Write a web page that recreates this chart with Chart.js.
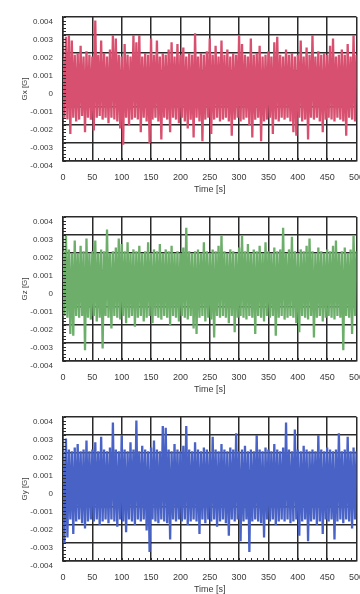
<!DOCTYPE html>
<html>
<head>
<meta charset="utf-8">
<script src="https://cdn.jsdelivr.net/npm/chart.js@4.4.1/dist/chart.umd.min.js"></script>
<style>
  html, body { margin: 0; padding: 0; background: #ffffff; width: 360px; height: 594px; overflow: hidden; }
  .panel { position: absolute; left: 0; width: 375px; height: 200px; }
  canvas { display: block; }
</style>
</head>
<body>
<div class="panel" style="top:0px"><canvas id="cGx" width="375" height="200"></canvas></div>
<div class="panel" style="top:200px"><canvas id="cGz" width="375" height="200"></canvas></div>
<div class="panel" style="top:400px"><canvas id="cGy" width="375" height="200"></canvas></div>
<script>
// ---- data (G) ----
const timeStep = 2.5; // seconds between samples
const xAxisTitle = 'Time [s]';
const axisTitles = ['Gx [G]', 'Gz [G]', 'Gy [G]'];
const seriesColors = ['#d8506f', '#6cae6a', '#4862c6'];

const gxValues = [
  0.0018,-0.0016,0.0029,-0.0017,0.0030,-0.0025,0.0027,-0.0016,0.0019,-0.0018,
  0.0020,-0.0017,0.0024,-0.0015,0.0018,-0.0024,0.0021,-0.0016,0.0019,-0.0017,
  0.0018,-0.0023,0.0038,-0.0016,0.0019,-0.0015,0.0027,-0.0017,0.0020,-0.0016,
  0.0018,-0.0019,0.0022,-0.0016,0.0030,-0.0017,0.0028,-0.0018,0.0019,-0.0022,
  0.0018,-0.0031,0.0025,-0.0016,0.0019,-0.0020,0.0018,-0.0017,0.0030,-0.0016,
  0.0026,-0.0017,0.0030,-0.0024,0.0018,-0.0016,0.0020,-0.0018,0.0019,-0.0030,
  0.0028,-0.0017,0.0019,-0.0016,0.0027,-0.0018,0.0018,-0.0028,0.0020,-0.0016,
  0.0019,-0.0017,0.0022,-0.0024,0.0026,-0.0016,0.0018,-0.0017,0.0025,-0.0019,
  0.0019,-0.0016,0.0023,-0.0018,0.0018,-0.0022,0.0020,-0.0017,0.0019,-0.0027,
  0.0031,-0.0016,0.0018,-0.0018,0.0020,-0.0029,0.0019,-0.0017,0.0021,-0.0016,
  0.0028,-0.0025,0.0019,-0.0017,0.0024,-0.0016,0.0018,-0.0018,0.0027,-0.0017,
  0.0019,-0.0016,0.0022,-0.0018,0.0018,-0.0026,0.0020,-0.0017,0.0019,-0.0016,
  0.0030,-0.0018,0.0025,-0.0017,0.0019,-0.0016,0.0018,-0.0020,0.0028,-0.0027,
  0.0019,-0.0017,0.0020,-0.0016,0.0024,-0.0029,0.0018,-0.0018,0.0019,-0.0017,
  0.0021,-0.0016,0.0018,-0.0025,0.0026,-0.0017,0.0029,-0.0018,0.0019,-0.0016,
  0.0018,-0.0017,0.0022,-0.0016,0.0019,-0.0018,0.0020,-0.0024,0.0018,-0.0026,
  0.0019,-0.0016,0.0027,-0.0018,0.0018,-0.0017,0.0023,-0.0028,0.0019,-0.0016,
  0.0030,-0.0017,0.0018,-0.0016,0.0021,-0.0018,0.0019,-0.0024,0.0020,-0.0017,
  0.0019,-0.0016,0.0024,-0.0017,0.0028,-0.0018,0.0018,-0.0016,0.0019,-0.0017,
  0.0022,-0.0018,0.0019,-0.0026,0.0025,-0.0016,0.0018,-0.0017,0.0030,-0.0018,
  0.0019
];

const gzValues = [
  0.0021,-0.0015,0.0030,-0.0016,0.0022,-0.0025,0.0020,-0.0026,0.0027,-0.0015,
  0.0020,-0.0016,0.0024,-0.0015,0.0021,-0.0034,0.0028,-0.0016,0.0020,-0.0017,
  0.0021,-0.0015,0.0027,-0.0018,0.0020,-0.0016,0.0022,-0.0033,0.0021,-0.0015,
  0.0033,-0.0016,0.0020,-0.0022,0.0021,-0.0015,0.0023,-0.0016,0.0028,-0.0017,
  0.0025,-0.0015,0.0021,-0.0019,0.0026,-0.0016,0.0020,-0.0015,0.0022,-0.0021,
  0.0021,-0.0016,0.0024,-0.0015,0.0020,-0.0018,0.0021,-0.0016,0.0026,-0.0015,
  0.0020,-0.0019,0.0022,-0.0015,0.0021,-0.0016,0.0025,-0.0017,0.0020,-0.0015,
  0.0022,-0.0016,0.0021,-0.0020,0.0024,-0.0015,0.0020,-0.0016,0.0021,-0.0018,
  0.0020,-0.0015,0.0023,-0.0016,0.0034,-0.0017,0.0021,-0.0015,0.0020,-0.0022,
  0.0021,-0.0025,0.0022,-0.0016,0.0020,-0.0015,0.0026,-0.0018,0.0021,-0.0016,
  0.0020,-0.0017,0.0022,-0.0027,0.0021,-0.0015,0.0024,-0.0016,0.0030,-0.0015,
  0.0021,-0.0016,0.0020,-0.0019,0.0022,-0.0015,0.0021,-0.0024,0.0020,-0.0016,
  0.0023,-0.0015,0.0030,-0.0016,0.0021,-0.0017,0.0025,-0.0015,0.0020,-0.0016,
  0.0022,-0.0025,0.0021,-0.0015,0.0024,-0.0016,0.0020,-0.0018,0.0026,-0.0015,
  0.0021,-0.0016,0.0020,-0.0015,0.0023,-0.0026,0.0021,-0.0016,0.0022,-0.0015,
  0.0034,-0.0017,0.0020,-0.0016,0.0022,-0.0015,0.0029,-0.0016,0.0021,-0.0019,
  0.0020,-0.0024,0.0022,-0.0015,0.0021,-0.0016,0.0024,-0.0017,0.0028,-0.0015,
  0.0021,-0.0027,0.0020,-0.0016,0.0023,-0.0015,0.0021,-0.0018,0.0020,-0.0016,
  0.0022,-0.0015,0.0021,-0.0016,0.0024,-0.0017,0.0027,-0.0015,0.0020,-0.0016,
  0.0021,-0.0034,0.0023,-0.0015,0.0020,-0.0016,0.0022,-0.0025,0.0030,-0.0015,
  0.0021
];

const gyValues = [
  0.0021,-0.0030,0.0028,-0.0027,0.0022,-0.0017,0.0021,-0.0025,0.0023,-0.0018,
  0.0025,-0.0017,0.0021,-0.0019,0.0022,-0.0022,0.0027,-0.0018,0.0021,-0.0017,
  0.0022,-0.0018,0.0026,-0.0017,0.0021,-0.0020,0.0029,-0.0018,0.0022,-0.0017,
  0.0021,-0.0019,0.0023,-0.0017,0.0037,-0.0018,0.0022,-0.0021,0.0021,-0.0017,
  0.0030,-0.0018,0.0022,-0.0024,0.0021,-0.0017,0.0026,-0.0018,0.0022,-0.0020,
  0.0038,-0.0017,0.0021,-0.0018,0.0024,-0.0017,0.0022,-0.0023,0.0021,-0.0035,
  0.0023,-0.0017,0.0027,-0.0018,0.0022,-0.0019,0.0021,-0.0017,0.0035,-0.0018,
  0.0034,-0.0019,0.0022,-0.0028,0.0021,-0.0017,0.0025,-0.0018,0.0022,-0.0017,
  0.0021,-0.0018,0.0024,-0.0017,0.0035,-0.0020,0.0022,-0.0018,0.0021,-0.0017,
  0.0026,-0.0018,0.0022,-0.0025,0.0021,-0.0017,0.0023,-0.0019,0.0022,-0.0017,
  0.0021,-0.0018,0.0029,-0.0017,0.0022,-0.0021,0.0021,-0.0018,0.0025,-0.0017,
  0.0022,-0.0019,0.0021,-0.0026,0.0023,-0.0017,0.0022,-0.0018,0.0031,-0.0017,
  0.0021,-0.0029,0.0022,-0.0018,0.0024,-0.0017,0.0021,-0.0035,0.0022,-0.0018,
  0.0021,-0.0017,0.0030,-0.0018,0.0022,-0.0019,0.0021,-0.0027,0.0023,-0.0017,
  0.0022,-0.0018,0.0021,-0.0017,0.0025,-0.0020,0.0022,-0.0018,0.0021,-0.0017,
  0.0023,-0.0018,0.0037,-0.0017,0.0022,-0.0019,0.0021,-0.0018,0.0033,-0.0017,
  0.0022,-0.0026,0.0021,-0.0018,0.0024,-0.0017,0.0022,-0.0029,0.0021,-0.0018,
  0.0022,-0.0017,0.0021,-0.0020,0.0030,-0.0018,0.0022,-0.0025,0.0021,-0.0017,
  0.0023,-0.0018,0.0022,-0.0017,0.0021,-0.0028,0.0022,-0.0018,0.0031,-0.0017,
  0.0021,-0.0019,0.0022,-0.0017,0.0029,-0.0018,0.0021,-0.0022,0.0023,-0.0017,
  0.0021
];

const allSeries = [gxValues, gzValues, gyValues];
const canvasIds = ['cGx', 'cGz', 'cGy'];

// ---- styling ----
const FONT = "'Liberation Sans', Arial, sans-serif";
const TEXT = '#3a3a3a';
const GRID = '#2a2a2a';

const minorTicks = {
  id: 'minorTicks',
  afterDraw(chart) {
    const { ctx, chartArea: { left, bottom }, scales: { x, y } } = chart;
    ctx.save();
    ctx.strokeStyle = GRID;
    ctx.lineWidth = 1;
    ctx.beginPath();
    for (let t = x.min; t <= x.max; t += 10) {
      const px = Math.round(x.getPixelForValue(t)) + 0.5;
      ctx.moveTo(px, bottom);
      ctx.lineTo(px, bottom - 3);
    }
    for (let k = -20; k <= 20; k++) {
      const py = Math.round(y.getPixelForValue(k * 0.0002)) + 0.5;
      ctx.moveTo(left, py);
      ctx.lineTo(left + 3, py);
    }
    ctx.stroke();
    ctx.restore();
  }
};

function makeChart(idx) {
  const values = allSeries[idx];
  const points = values.map((v, i) => ({ x: i * timeStep, y: v }));
  return new Chart(document.getElementById(canvasIds[idx]), {
    type: 'line',
    data: {
      datasets: [{
        data: points,
        borderColor: seriesColors[idx],
        borderWidth: 2.3,
        pointRadius: 0,
        tension: 0,
        fill: false
      }]
    },
    plugins: [minorTicks],
    options: {
      responsive: false,
      animation: false,
      layout: { padding: { top: 17, right: 2, bottom: 0, left: 0 } },
      plugins: { legend: { display: false }, tooltip: { enabled: false } },
      scales: {
        x: {
          type: 'linear',
          min: 0,
          max: 500,
          afterFit(s) { s.height = 39; },
          ticks: {
            stepSize: 50,
            padding: 11,
            maxRotation: 0,
            color: TEXT,
            font: { family: FONT, size: 9 }
          },
          grid: { color: GRID, lineWidth: 1.5, drawTicks: false },
          border: { color: GRID, width: 1.5 },
          title: {
            display: true,
            text: xAxisTitle,
            color: TEXT,
            font: { family: FONT, size: 9 },
            padding: { top: 0, bottom: 5 }
          }
        },
        y: {
          min: -0.004,
          max: 0.004,
          afterFit(s) { s.width = 63; },
          ticks: {
            stepSize: 0.001,
            padding: 10,
            labelOffset: 5,
            color: TEXT,
            font: { family: FONT, size: 8 },
            callback: (v) => (Math.abs(v) < 1e-9 ? '0' : Number(v).toFixed(3))
          },
          grid: { color: GRID, lineWidth: 1.5, drawTicks: false },
          border: { color: GRID, width: 1.5 },
          title: {
            display: true,
            text: axisTitles[idx],
            color: TEXT,
            font: { family: FONT, size: 8 },
            padding: { top: 20, bottom: 0 }
          }
        }
      }
    }
  });
}

[0, 1, 2].forEach(makeChart);
</script>
</body>
</html>
